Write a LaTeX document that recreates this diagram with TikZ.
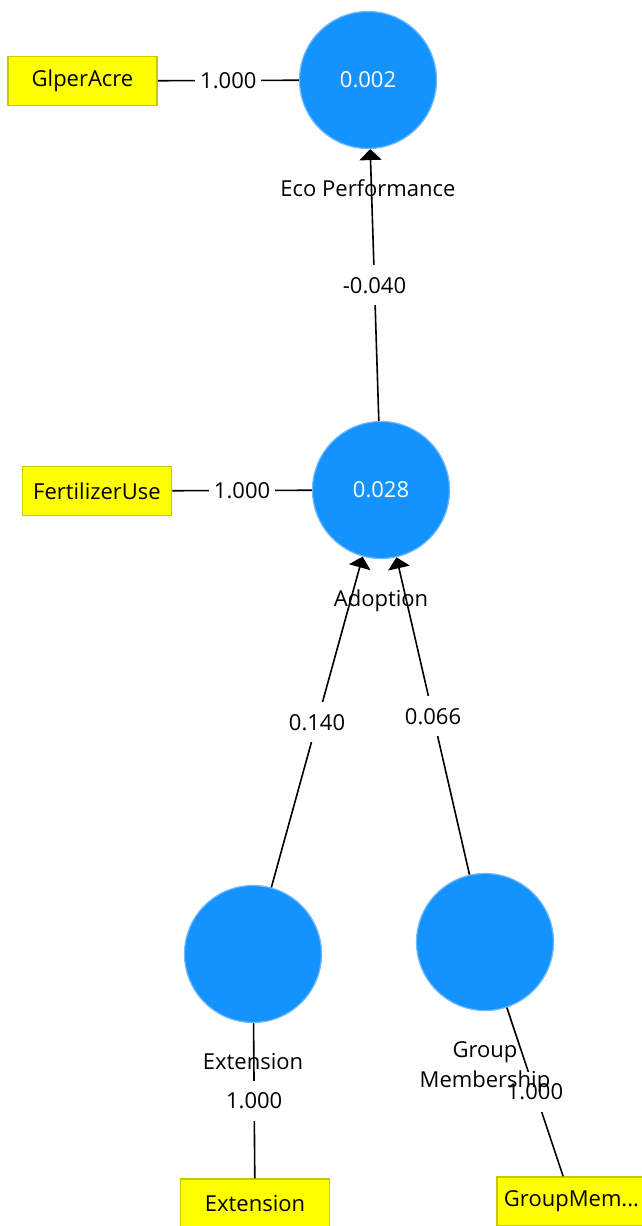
\documentclass[tikz,border=0pt]{standalone}
\usepackage{fontspec}
\setmainfont{Open Sans}
\usetikzlibrary{arrows.meta}
\definecolor{lvfill}{RGB}{20,147,255}
\definecolor{lvedge}{RGB}{110,185,255}
\definecolor{mvfill}{RGB}{255,255,0}
\definecolor{mvedge}{RGB}{200,200,0}
\begin{document}
\begin{tikzpicture}[x=1pt,y=-1pt,
  font=\fontsize{22}{30}\selectfont,
  latent/.style={circle, fill=lvfill, draw=lvedge, line width=1.2pt,
    minimum size=137pt, inner sep=0pt, text=white},
  indicator/.style={rectangle, fill=mvfill, draw=mvedge, line width=1.5pt,
    minimum width=149pt, minimum height=49pt, inner sep=0pt},
  lvname/.style={anchor=north, align=center, inner sep=0pt},
  coef/.style={fill=white, inner xsep=5pt, inner ysep=12pt,
    text height=16pt, text depth=0pt},
  pathline/.style={line width=1.6pt, -{Triangle[width=22pt,length=11pt]}},
  loading/.style={line width=1.6pt}]
\clip (0,0) rectangle (642,1226);
\fill[white] (0,0) rectangle (642,1226);

% latent variables
\node[latent] (eco) at (368,80) {0.002};
\node[latent] (adopt) at (381,490) {0.028};
\node[latent] (ext) at (253,954) {};
\node[latent] (grp) at (485,942) {};

% indicators
\node[indicator] (glp) at (82.5,81) {GlperAcre};
\node[indicator] (fert) at (97,491) {FertilizerUse};
\node[indicator] (extB) at (255,1203.5) {Extension};
\node[indicator] (grpB) at (571.5,1201.5) {GroupMem...};

% outer loadings
\draw[loading] (glp) -- node[coef] {1.000} (eco);
\draw[loading] (fert) -- node[coef] {1.000} (adopt);
\draw[loading] (ext) -- node[coef] {1.000} (extB);
\draw[loading] (grp) -- node[coef] {1.000} (grpB);

% structural paths
\draw[pathline] (adopt) -- node[coef] {-0.040} (eco);
\draw[pathline] (ext) -- node[coef] {0.140} (adopt);
\draw[pathline] (grp) -- node[coef] {0.066} (adopt);

% construct names
\node[lvname] (ecoN) at ([yshift=-30pt]eco.south) {Eco Performance};
\node[lvname] (adoptN) at ([yshift=-30pt]adopt.south) {Adoption};
\node[lvname] (extN) at ([yshift=-30pt]ext.south) {Extension};
\node[lvname] (grpN) at ([yshift=-30pt]grp.south) {Group\\Membership};
\end{tikzpicture}
\end{document}
